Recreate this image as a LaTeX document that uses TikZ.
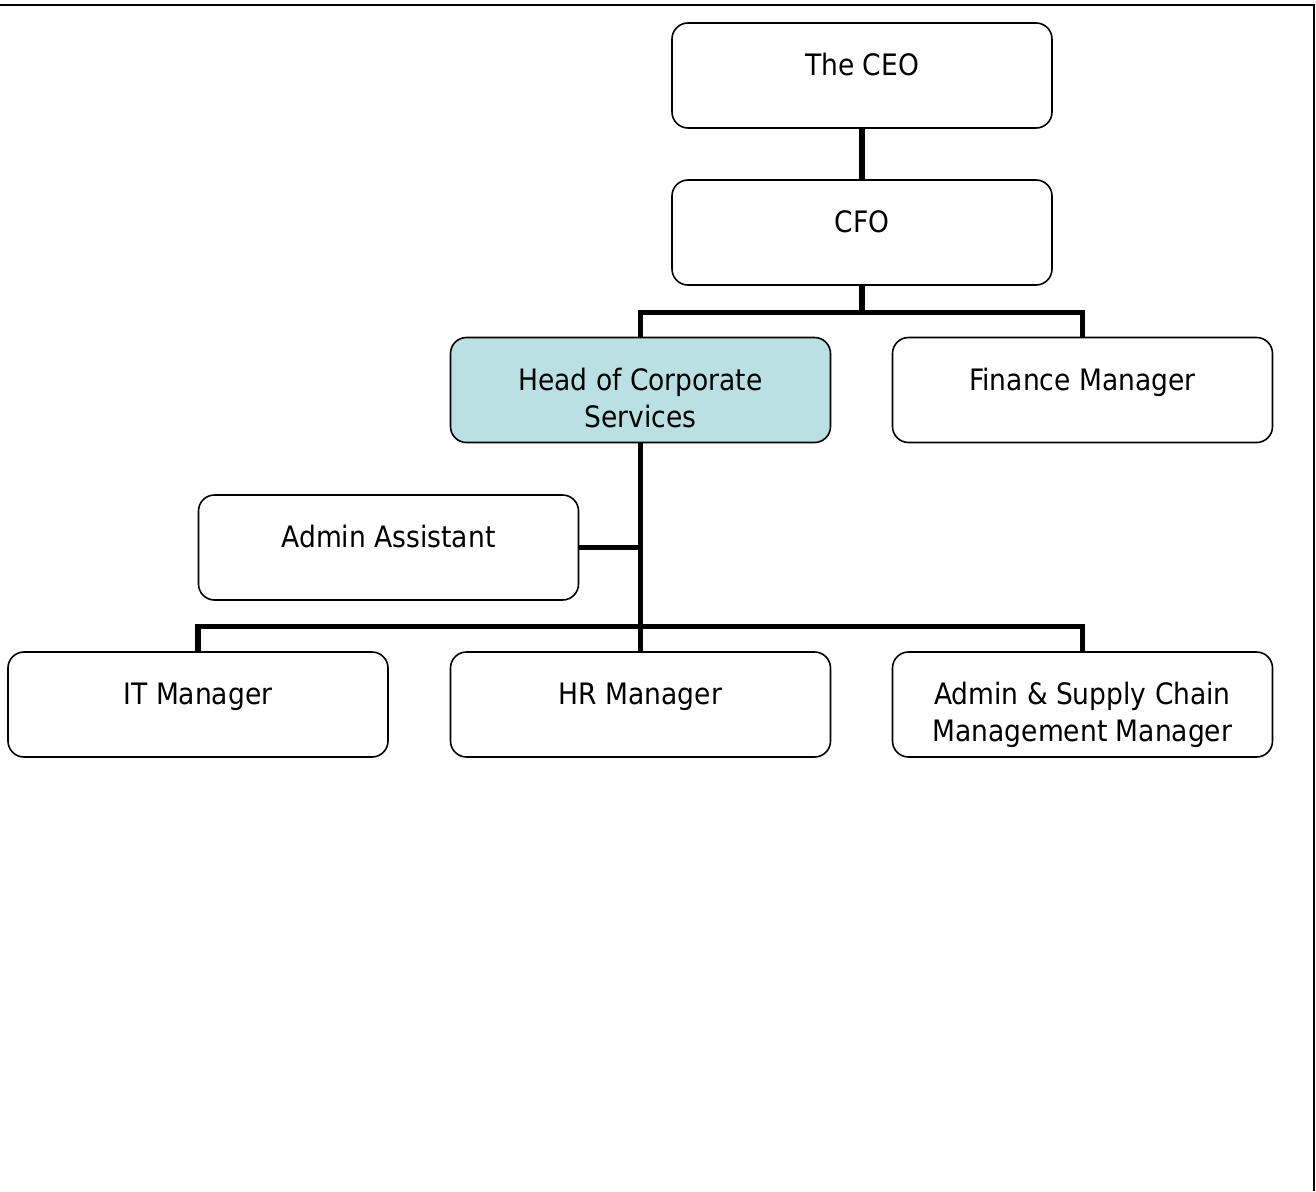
\documentclass[tikz,border=0pt]{standalone}
\usepackage{fontspec}
\setmainfont{DejaVu Sans Condensed}
\definecolor{headfill}{RGB}{186,224,227}
\newcommand{\boxtext}[1]{\parbox[c][105pt][t]{370pt}{\centering\rule{0pt}{52.5pt}#1}}
\tikzset{
  orgbox/.style={draw=black, line width=1.6pt, rounded corners=16pt, fill=white,
    minimum width=380pt, minimum height=105pt, inner sep=0pt,
    font=\fontsize{29.5pt}{37pt}\selectfont},
  conn/.style={draw=black, line width=5.5pt, line join=miter}
}
\begin{document}
\begin{tikzpicture}[x=1pt,y=-1pt]
\useasboundingbox (0,0) rectangle (1316,1191);
\draw[line width=2pt] (0,5) -- (1314,5) -- (1314,1191);
\coordinate (j1) at (640.5,312.5);
\coordinate (j2) at (640.5,626.5);
\node[orgbox] (ceo) at (862,75.5) {\boxtext{The CEO}};
\node[orgbox] (cfo) at (862,232.5) {\boxtext{CFO}};
\node[orgbox, fill=headfill] (head) at (640.5,390) {\boxtext{Head of Corporate\\Services}};
\node[orgbox] (fin) at (1082.5,390) {\boxtext{Finance Manager}};
\node[orgbox] (aa) at (388.5,547.5) {\boxtext{Admin Assistant}};
\node[orgbox] (it) at (198,704.5) {\boxtext{IT Manager}};
\node[orgbox] (hr) at (640.5,704.5) {\boxtext{HR Manager}};
\node[orgbox] (asc) at (1082.5,704.5) {\boxtext{Admin \& Supply Chain\\Management Manager}};
\draw[conn] (ceo.south) -- (cfo.north);
\draw[conn] (cfo.south) -- (cfo.south |- j1);
\draw[conn] (head.north) -- (j1) -| (fin.north);
\draw[conn] (head.south) -- (hr.north);
\draw[conn] (aa.east) -- (aa.east -| head.south);
\draw[conn] (it.north) |- (j2) -| (asc.north);
\end{tikzpicture}
\end{document}
